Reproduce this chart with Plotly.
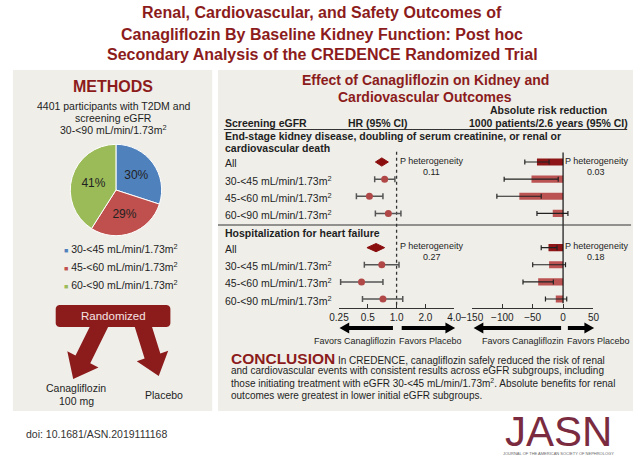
import math
import plotly.graph_objects as go

W, H = 640, 461
FONT = "Liberation Sans, Arial, sans-serif"
RED = "#8c1c1c"
TXT = "#1e1e1e"
BG = "#efeee9"

# ---------------- data ----------------
pie_labels = ["30-<45 mL/min/1.73m<sup>2</sup>", "45-<60 mL/min/1.73m<sup>2</sup>", "60-<90 mL/min/1.73m<sup>2</sup>"]
pie_values = [30, 29, 41]
pie_colors = ["#4f81bd", "#c0504d", "#9bbb59"]

row_labels = ["All", "30-<45 mL/min/1.73m<sup>2</sup>", "45-<60 mL/min/1.73m<sup>2</sup>", "60-<90 mL/min/1.73m<sup>2</sup>"]
rows_comp = [0, 1, 2, 3]
rows_hf = [5, 6, 7, 8]

hr_comp = [0.70, 0.75, 0.52, 0.82]
hr_comp_lo = [0.60, 0.59, 0.38, 0.60]
hr_comp_hi = [0.82, 0.96, 0.72, 1.11]

hr_hf = [0.61, 0.70, 0.43, 0.72]
hr_hf_lo = [0.49, 0.46, 0.26, 0.44]
hr_hf_hi = [0.75, 1.06, 0.72, 1.16]

arr_comp = [-43, -52, -72, -17]
arr_comp_lo = [-63, -97, -109, -43]
arr_comp_hi = [-23, -8, -36, 8]

arr_hf = [-24, -23, -41, -12]
arr_hf_lo = [-36, -50, -66, -29]
arr_hf_hi = [-10, 4, -16, 6]

p_het_hr = ["0.11", "0.27"]
p_het_arr = ["0.03", "0.18"]

hr_ticks = [0.25, 0.5, 1, 2, 4]
hr_ticktext = ["0.25", "0.5", "1.0", "2.0", "4.0"]
arr_ticks = [-150, -100, -50, 0, 50]

# ---------------- helpers (pixel coordinates -> paper) ----------------
def px(x):
    return x / W

def py(y):
    return 1 - y / H

ROW0_PX, ROW_STEP = 162.0, 17.125

anns = []
shapes = []

def ann(x, y, text, size=10.5, color=TXT, bold=False, xanchor="center", yanchor="middle"):
    if bold:
        text = "<b>" + text + "</b>"
    anns.append(dict(x=px(x), y=py(y), xref="paper", yref="paper", text=text, showarrow=False,
                     xanchor=xanchor, yanchor=yanchor, align="left" if xanchor == "left" else "center",
                     borderpad=0, font=dict(size=size, color=color, family=FONT)))

def rect(x0, y0, x1, y1, color):
    shapes.append(dict(type="rect", xref="paper", yref="paper", x0=px(x0), x1=px(x1), y0=py(y1), y1=py(y0),
                       fillcolor=color, line=dict(width=0), layer="below"))

def hline(x0, x1, y, color="#333", width=1):
    shapes.append(dict(type="line", xref="paper", yref="paper", x0=px(x0), x1=px(x1), y0=py(y), y1=py(y),
                       line=dict(color=color, width=width)))

def poly(points, color):
    d = "M " + " L ".join(f"{px(x):.5f},{py(y):.5f}" for x, y in points) + " Z"
    shapes.append(dict(type="path", xref="paper", yref="paper", path=d, fillcolor=color,
                       line=dict(width=0)))

def arrow(x0, y0, x1, y1, sw, hw, hl, color):
    dx, dy = x1 - x0, y1 - y0
    L = math.hypot(dx, dy)
    ux, uy = dx / L, dy / L
    nx, ny = -uy, ux
    bx, by = x1 - ux * hl, y1 - uy * hl
    pts = [(x0 + nx * sw / 2, y0 + ny * sw / 2), (bx + nx * sw / 2, by + ny * sw / 2),
           (bx + nx * hw / 2, by + ny * hw / 2), (x1, y1),
           (bx - nx * hw / 2, by - ny * hw / 2), (bx - nx * sw / 2, by - ny * sw / 2),
           (x0 - nx * sw / 2, y0 - ny * sw / 2)]
    poly(pts, color)

def rounded_rect(x0, y0, x1, y1, r, color):
    pts = []
    for cx, cy, a0 in [(x1 - r, y0 + r, -90), (x1 - r, y1 - r, 0), (x0 + r, y1 - r, 90), (x0 + r, y0 + r, 180)]:
        for k in range(7):
            a = math.radians(a0 + 15 * k)
            pts.append((cx + r * math.cos(a), cy + r * math.sin(a)))
    poly(pts, color)

# ---------------- panels ----------------
rect(2, 70, 207, 411, BG)
rect(213, 70, 640, 411, BG)

# title
ann(320, 13, "Renal, Cardiovascular, and Safety Outcomes of", 16, RED, True)
ann(320, 34, "Canagliflozin By Baseline Kidney Function: Post hoc", 16, RED, True)
ann(320, 55, "Secondary Analysis of the CREDENCE Randomized Trial", 16, RED, True)

# ---------------- left panel ----------------
ann(105, 86, "METHODS", 16, RED, True)
ann(105, 106, "4401 participants with T2DM and", 10.5)
ann(105, 118, "screening eGFR", 10.5)
ann(105, 129, "30-<90 mL/min/1.73m<sup>2</sup>", 10.5)

legend_y = [248, 266, 284]
for lab, col, yy in zip(pie_labels, pie_colors, legend_y):
    ann(53, yy, f"<span style='color:{col};font-size:7px'>■</span> " + lab, 10.5, xanchor="left")

rounded_rect(46, 305, 164, 327, 4, RED)
arrow(94, 320, 64, 379, 17, 36, 22, RED)
arrow(134, 320, 152, 376, 17, 34, 21, RED)
ann(105, 316, "Randomized", 11.5, "#f6e3e3")
ann(67, 388, "Canagliflozin", 10.5)
ann(67, 401, "100 mg", 10.5)
ann(157, 395, "Placebo", 10.5)
ann(14, 434, "doi: 10.1681/ASN.2019111168", 10.5, "#333", xanchor="left")

# ---------------- right panel text ----------------
ann(426, 80, "Effect of Canagliflozin on Kidney and", 14, RED, True)
ann(426, 97, "Cardiovascular Outcomes", 14, RED, True)
ann(219, 123, "Screening eGFR", 10.5, bold=True, xanchor="left")
ann(378, 123, "HR (95% CI)", 10.5, bold=True)
ann(553, 110, "Absolute risk reduction", 10.5, bold=True)
ann(553, 123, "1000 patients/2.6 years (95% CI)", 10.5, bold=True)
hline(219, 634, 129.5, "#333", 1.2)
ann(219, 136, "End-stage kidney disease, doubling of serum creatinine, or renal or", 10.5, bold=True, xanchor="left")
ann(219, 148, "cardiovascular death", 10.5, bold=True, xanchor="left")
hline(213, 638, 225, "#333", 1)
ann(219, 233, "Hospitalization for heart failure", 10.5, bold=True, xanchor="left")

def row_px(r):
    return ROW0_PX + ROW_STEP * r

for rows in (rows_comp, rows_hf):
    for lab, r in zip(row_labels, rows):
        ann(219, row_px(r) + 1, lab, 10.5, xanchor="left")

for k, ycen in enumerate([160.5, 245.5]):
    ann(433, ycen, "P heterogeneity", 9)
    ann(433, ycen + 11, p_het_hr[k], 9)
    ann(602, ycen, "P heterogeneity", 9)
    ann(602, ycen + 11, p_het_arr[k], 9)

# favors arrows and labels
arrow(393, 328, 338, 328, 4, 11, 10, "#000")
arrow(402, 328, 457, 328, 4, 11, 10, "#000")
arrow(566, 328, 476, 328, 4, 11, 10, "#000")
arrow(573, 328, 600, 328, 4, 11, 10, "#000")
ann(354, 341, "Favors Canagliflozin", 9)
ann(432, 341, "Favors Placebo", 9)
ann(527, 341, "Favors Canagliflozin", 9)
ann(604, 341, "Favors Placebo", 9)

# conclusion
ann(225, 358, f"<b><span style='font-size:15.5px;color:{RED}'>CONCLUSION</span></b> "
    "In CREDENCE, canagliflozin safely reduced the risk of renal", 10, xanchor="left")
ann(225, 370.5, "and cardiovascular events with consistent results across eGFR subgroups, including", 10, xanchor="left")
ann(225, 383, "those initiating treatment with eGFR 30-<45 mL/min/1.73m<sup>2</sup>. Absolute benefits for renal", 10, xanchor="left")
ann(225, 395.5, "outcomes were greatest in lower initial eGFR subgroups.", 10, xanchor="left")

# JASN logo text
ann(563, 431, "JASN", 42, "#7a2b40")
ann(563, 453, "JOURNAL OF THE AMERICAN SOCIETY OF NEPHROLOGY", 4, "#666")

# ---------------- traces ----------------
fig = go.Figure()

fig.add_trace(go.Pie(values=pie_values, labels=pie_labels, marker=dict(colors=pie_colors, line=dict(color="white", width=1)),
                     sort=False, direction="clockwise", rotation=0, texttemplate="%{value}%", textposition="inside",
                     insidetextorientation="horizontal", textfont=dict(size=12, color="#222", family=FONT),
                     domain=dict(x=[px(108 - 47), px(108 + 47)], y=[py(190 + 47), py(190 - 47)]),
                     showlegend=False, hoverinfo="skip"))

# reference lines
fig.add_trace(go.Scatter(x=[1, 1], y=[-0.6, 8.53], mode="lines", line=dict(color="#333", width=1.3, dash="dot"),
                         xaxis="x", yaxis="y", showlegend=False, hoverinfo="skip"))
fig.add_trace(go.Scatter(x=[0, 0], y=[-0.55, 8.25], mode="lines", line=dict(color="#111", width=1.2),
                         xaxis="x2", yaxis="y", showlegend=False, hoverinfo="skip"))

def add_forest(hr, lo, hi, rows):
    dh = 0.24
    fig.add_trace(go.Scatter(x=[lo[0], hr[0], hi[0], hr[0], lo[0]],
                             y=[rows[0], rows[0] - dh, rows[0], rows[0] + dh, rows[0]],
                             fill="toself", fillcolor="#8b0e0e", mode="lines", line=dict(color="#8b0e0e", width=1),
                             xaxis="x", yaxis="y", showlegend=False, hoverinfo="skip"))
    fig.add_trace(go.Scatter(x=hr[1:], y=rows[1:], mode="markers",
                             marker=dict(color="#b04848", size=7),
                             error_x=dict(type="data", symmetric=False,
                                          array=[h - v for h, v in zip(hi[1:], hr[1:])],
                                          arrayminus=[v - l for v, l in zip(hr[1:], lo[1:])],
                                          color="#555", thickness=1.5, width=3),
                             xaxis="x", yaxis="y", showlegend=False, hoverinfo="skip"))

add_forest(hr_comp, hr_comp_lo, hr_comp_hi, rows_comp)
add_forest(hr_hf, hr_hf_lo, hr_hf_hi, rows_hf)

def add_arr(vals, lo, hi, rows):
    colors = ["#8e1616"] + ["#bb5352"] * (len(vals) - 1)
    fig.add_trace(go.Bar(x=vals, y=rows, orientation="h", width=0.42, marker=dict(color=colors, line=dict(width=0)),
                         error_x=dict(type="data", symmetric=False,
                                      array=[h - v for h, v in zip(hi, vals)],
                                      arrayminus=[v - l for v, l in zip(vals, lo)],
                                      color="#222", thickness=1.2, width=2.5),
                         xaxis="x2", yaxis="y", showlegend=False, hoverinfo="skip"))

add_arr(arr_comp, arr_comp_lo, arr_comp_hi, rows_comp)
add_arr(arr_hf, arr_hf_lo, arr_hf_hi, rows_hf)

axis_pos = py(308)
common_axis = dict(anchor="free", position=axis_pos, showline=True, linecolor="#333", linewidth=1,
                   ticks="inside", ticklen=4, tickcolor="#333", showgrid=False, zeroline=False,
                   tickfont=dict(size=10, color=TXT, family=FONT), fixedrange=True)

fig.update_layout(
    width=W, height=H, margin=dict(l=0, r=0, t=0, b=0, pad=0),
    paper_bgcolor="white", plot_bgcolor="rgba(0,0,0,0)",
    font=dict(family=FONT, color=TXT),
    xaxis=dict(type="log", range=[math.log10(0.25), math.log10(4)], domain=[px(337.5), px(456)],
               tickvals=hr_ticks, ticktext=hr_ticktext, **common_axis),
    xaxis2=dict(range=[-150, 50], domain=[px(474.3), px(599.3)], tickvals=arr_ticks, **common_axis),
    yaxis=dict(range=[(H - ROW0_PX) / ROW_STEP, -ROW0_PX / ROW_STEP], domain=[0, 1],
               visible=False, fixedrange=True),
    barmode="overlay",
    annotations=anns, shapes=shapes,
)

# remove the default 8px page margin so the 640x461 figure fills the window exactly
fig.write_html("out.html", config={"displayModeBar": False, "staticPlot": True},
               post_script="document.body.style.margin='0px';")
